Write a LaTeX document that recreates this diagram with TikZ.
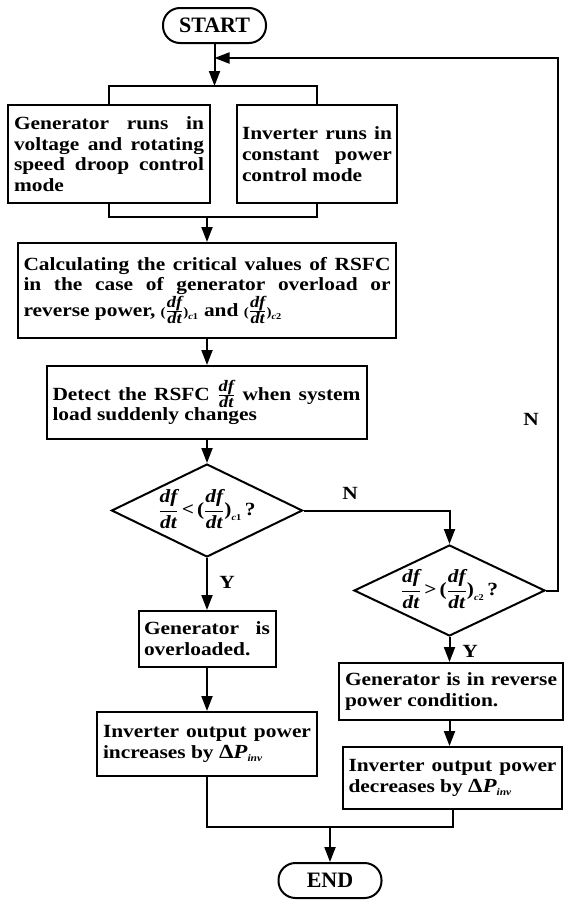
\RequirePackage{fix-cm}
\documentclass[tikz,border=0pt]{standalone}
\usepackage{amsmath}
\usepackage{fontspec}
\setmainfont{Liberation Serif}[FakeStretch=1.15]
\newfontfamily\termfont{Liberation Serif}
\usetikzlibrary{arrows.meta,shapes.geometric}
\newcommand{\mainsz}{\fontsize{18.6}{20.7}\selectfont\bfseries}
\newcommand{\fr}{\frac{\text{\fontsize{16}{16}\selectfont\itshape df}}{\text{\fontsize{16}{16}\selectfont\itshape dt}}}
\newcommand{\dfr}{\dfrac{\text{\itshape df}}{\text{\itshape dt}}}
\newcommand{\csub}[1]{_{\text{\fontsize{9}{9}\selectfont\itshape c\upshape #1}}}
\newcommand{\spar}[1]{\text{\fontsize{13}{13}\selectfont #1}}
\newcommand{\dP}{{\fontsize{20}{20}\selectfont Δ\itshape P}$_{\text{\fontsize{10}{10}\selectfont\itshape inv}}$}
\newcommand{\ctrtext}[1]{\makebox[0pt]{\smash{\raisebox{-5pt}{#1}}}}
\begin{document}
\begin{tikzpicture}[x=1pt,y=-1pt,line width=2pt,
  arr/.style={-{Triangle[length=15pt,width=11pt]}},
  box/.style={draw,rectangle,align=justify,font=\mainsz,inner ysep=2pt},
  term/.style={draw,rectangle,rounded corners=17pt,minimum width=103pt,minimum height=35pt,
    font=\termfont\fontsize{22}{24}\selectfont\bfseries,inner sep=0pt},
  dia/.style={draw,diamond,aspect=2,inner sep=0pt,font=\mainsz},
  lbl/.style={font=\mainsz,inner sep=0pt}]
\fill[white] (0,0) rectangle (564,900);
\useasboundingbox (0,0) rectangle (564,900);

\node[term] (start) at (214.5,25.5) {START};
\node[box,text width=190pt,inner xsep=6pt,minimum height=98pt] (b1) at (109,154)
  {Generator runs in\linebreak voltage and rotating\linebreak speed droop control\linebreak mode};
\node[box,text width=150pt,inner xsep=5pt,minimum height=98pt] (b2) at (317,154)
  {Inverter runs in\linebreak constant power\linebreak control mode};
\node[box,text width=367pt,inner xsep=5.5pt,minimum height=95pt] (b3) at (207,290.5)
  {Calculating the critical values of RSFC\linebreak in the case of generator overload or\linebreak
   reverse power, $\spar{(}\fr\spar{)}\csub{1}$ and $\spar{(}\fr\spar{)}\csub{2}$};
\node[box,text width=308pt,inner xsep=6pt,minimum height=73pt] (b4) at (206.5,402.5)
  {Detect the RSFC $\fr$ when system\linebreak load suddenly changes};
\node[dia,minimum width=191pt,minimum height=93pt] (d1) at (207,510.5)
  {\ctrtext{$\dfr\text{\,<\,(}\dfr\text{)}\csub{1}\text{\,?}$}};
\node[box,text width=126pt,inner xsep=5.5pt,minimum height=56pt] (ov) at (207,639)
  {Generator is\linebreak overloaded.};
\node[box,text width=208pt,inner xsep=6pt,minimum height=64pt] (inc) at (207,744)
  {Inverter output power\linebreak increases by \dP};
\node[dia,minimum width=191pt,minimum height=91pt] (d2) at (449.5,590.5)
  {\ctrtext{$\dfr\text{\,>\,(}\dfr\text{)}\csub{2}\text{\,?}$}};
\node[box,text width=212pt,inner xsep=6pt,minimum height=57pt] (rev) at (451,691.5)
  {Generator is in reverse\linebreak power condition.};
\node[box,text width=208pt,inner xsep=5.5pt,minimum height=62pt] (dec) at (452.5,778)
  {Inverter output power\linebreak decreases by \dP};
\node[term] (end) at (330,880.5) {END};

\node[lbl] (n1) at (350,493) {N};
\node[lbl] (y1) at (227,582) {Y};
\node[lbl] (y2) at (470,651) {Y};
\node[lbl] (n2) at (531,419) {N};

\coordinate (sp) at (214.5,86);
\coordinate (mg) at (207,217);
\coordinate (lp) at (558,58);
\coordinate (bm) at (330,827);

\draw[arr] (start.south) -- (sp);
\draw (b1.north) -- (b1.north |- sp) -- (b2.north |- sp) -- (b2.north);
\draw (b1.south) -- (b1.south |- mg) -- (b2.south |- mg) -- (b2.south);
\draw[arr] (mg) -- (b3.north);
\draw[arr] (b3.south) -- (b3.south |- b4.north);
\draw[arr] (d1.north |- b4.south) -- (d1.north);
\draw[arr] (d1.south) -- (ov.north);
\draw[arr] (ov.south) -- (inc.north);
\draw[arr] (d1.east) -| (d2.north);
\draw[arr] (d2.east) -| (lp) -- (start.south |- lp);
\draw[arr] (d2.south) -- (d2.south |- rev.north);
\draw[arr] (d2.south |- rev.south) -- (d2.south |- dec.north);
\draw (inc.south) -- (inc.south |- bm) -- (dec.south |- bm) -- (dec.south);
\draw[arr] (bm) -- (end.north);
\end{tikzpicture}
\end{document}
